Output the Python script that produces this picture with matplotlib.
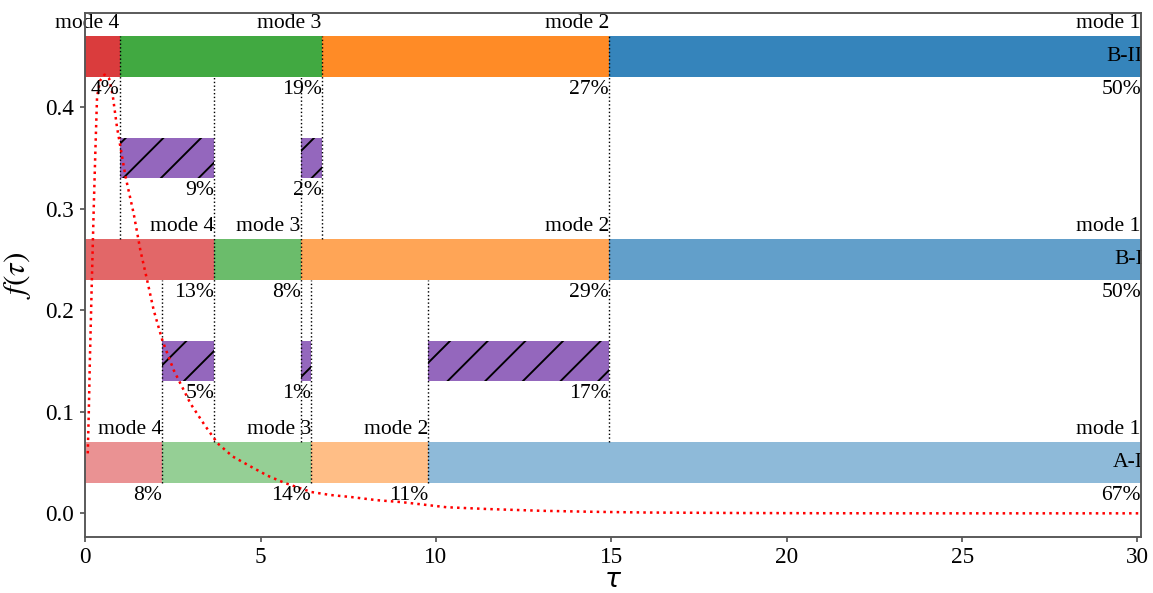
import matplotlib
matplotlib.use("Agg")
import matplotlib.pyplot as plt

# ---------------- data ----------------
mode_names = ["mode 4", "mode 3", "mode 2", "mode 1"]
mode_colors = ["#d62728", "#2ca02c", "#ff7f0e", "#1f77b4"]

row_names = ["A-I", "B-I", "B-II"]
row_centers = [0.05, 0.25, 0.45]
row_alphas = [0.5, 0.7, 0.9]

A_I_edges = [0, 2.18, 6.44, 9.77, 30.1]
A_I_pct = ["8%", "14%", "11%", "67%"]
B_I_edges = [0, 3.68, 6.14, 14.93, 30.1]
B_I_pct = ["13%", "8%", "29%", "50%"]
B_II_edges = [0, 0.98, 6.74, 14.93, 30.1]
B_II_pct = ["4%", "19%", "27%", "50%"]

hatch_low_y = 0.15
hatch_low_starts = [2.18, 6.14, 9.77]
hatch_low_ends = [3.68, 6.44, 14.93]
hatch_low_pct = ["5%", "1%", "17%"]

hatch_high_y = 0.35
hatch_high_starts = [0.98, 6.14]
hatch_high_ends = [3.68, 6.74]
hatch_high_pct = ["9%", "2%"]

vline_x = [0.98, 3.68, 6.14, 6.74, 2.18, 6.44, 9.77, 14.93]
vline_lo = [0.27, 0.07, 0.07, 0.27, 0.03, 0.03, 0.03, 0.07]
vline_hi = [0.47, 0.43, 0.43, 0.47, 0.23, 0.23, 0.23, 0.47]

tau = [0.07, 0.10, 0.13, 0.18, 0.24, 0.29, 0.335, 0.42, 0.55, 0.68, 0.78, 0.90,
       1.00, 1.15, 1.38, 1.57, 1.76, 1.95, 2.20, 2.52, 3.00, 3.40, 3.77, 4.20,
       4.72, 5.20, 5.68, 6.44, 7.00, 7.59, 8.30, 9.03, 10.3, 11.5, 13.0, 14.5,
       16.0, 18.7, 21.0, 24.0, 27.0, 30.1]
f_tau = [0.059, 0.100, 0.150, 0.220, 0.300, 0.360, 0.410, 0.426, 0.432, 0.428, 0.412, 0.381,
         0.361, 0.331, 0.295, 0.259, 0.230, 0.200, 0.170, 0.141, 0.108, 0.087, 0.069, 0.056,
         0.046, 0.037, 0.030, 0.021, 0.018, 0.016, 0.013, 0.011, 0.0060, 0.0042, 0.0025, 0.0015,
         0.0008, 0.0003, 0.0001, 0.0, 0.0, 0.0]

x_ticks = [0, 5, 10, 15, 20, 25, 30]
y_ticks = [0.0, 0.1, 0.2, 0.3, 0.4]

# ---------------- style ----------------
DPI = 226
plt.rcParams["font.family"] = ["Liberation Serif", "DejaVu Serif"]
plt.rcParams["hatch.linewidth"] = 0.6
plt.rcParams["hatch.color"] = "black"

fig = plt.figure(figsize=(1153 / DPI, 593 / DPI), dpi=DPI)
ax = fig.add_axes([85.3 / 1153, (593 - 537.3) / 593, (1141 - 85.3) / 1153, (537.3 - 13) / 593])

BAR_H = 0.04
FS = 6.9
pad_y = 0.003

rows_edges = [A_I_edges, B_I_edges, B_II_edges]
rows_pct = [A_I_pct, B_I_pct, B_II_pct]

for name, yc, alpha, edges, pcts in zip(row_names, row_centers, row_alphas, rows_edges, rows_pct):
    for i in range(len(edges) - 1):
        ax.barh(yc, edges[i + 1] - edges[i], left=edges[i], height=BAR_H,
                color=mode_colors[i], alpha=alpha, linewidth=0, zorder=2)
        ax.text(edges[i + 1], yc + BAR_H / 2 + pad_y, mode_names[i], ha="right", va="bottom",
                fontsize=FS, zorder=5)
        ax.text(edges[i + 1], yc - BAR_H / 2 - pad_y, pcts[i], ha="right", va="top",
                fontsize=FS, zorder=5)
    ax.text(edges[-1] + 0.05, yc, name, ha="right", va="center", fontsize=FS, zorder=5)

for yc, starts, ends, pcts in [(hatch_low_y, hatch_low_starts, hatch_low_ends, hatch_low_pct),
                               (hatch_high_y, hatch_high_starts, hatch_high_ends, hatch_high_pct)]:
    for s, e, p in zip(starts, ends, pcts):
        ax.barh(yc, e - s, left=s, height=BAR_H, color="#9467bd", edgecolor="black",
                linewidth=0, hatch="//", zorder=2)
        ax.text(e, yc - BAR_H / 2 - pad_y, p, ha="right", va="top", fontsize=FS, zorder=5)

for x, lo, hi in zip(vline_x, vline_lo, vline_hi):
    ax.plot([x, x], [lo, hi], color="black", linestyle=":", linewidth=0.45, zorder=3)

ax.plot(tau, f_tau, color="red", linestyle=":", linewidth=0.8, zorder=4)

ax.set_xlim(0, 30.1)
ax.set_ylim(-0.0236, 0.4926)
ax.set_xticks(x_ticks)
ax.set_xticklabels([str(v) for v in x_ticks])
ax.set_yticks(y_ticks)
ax.set_yticklabels([f"{v:.1f}" for v in y_ticks])
ax.tick_params(labelsize=7.4, length=1.6, width=0.5, color="#444444", pad=2)
ax.tick_params(axis="x", pad=1.5)
for sp in ax.spines.values():
    sp.set_color("#555555")
    sp.set_linewidth(0.6)
    sp.set_zorder(6)

ax.set_xlabel(r"$\tau$", fontsize=8.5, math_fontfamily="dejavusans", labelpad=0)
ax.set_ylabel(r"$f(\tau)$", fontsize=10, math_fontfamily="stix", labelpad=4)

fig.savefig("out.png", dpi=DPI)
